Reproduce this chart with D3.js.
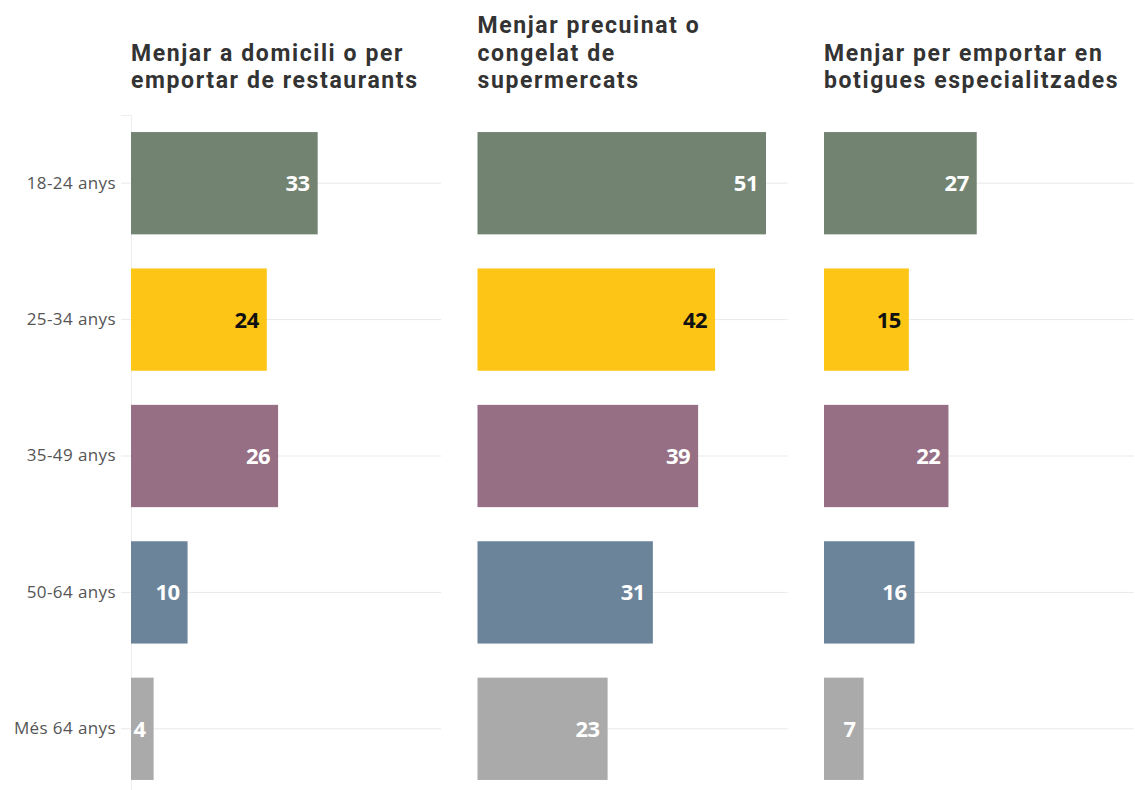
<!DOCTYPE html>
<html>
<head>
<meta charset="utf-8">
<script src="https://cdn.jsdelivr.net/npm/d3@7"></script>
<style>
  body { margin: 0; background: #fff; }
  svg { display: block; }
</style>
</head>
<body>
<svg width="1135" height="790"></svg>
<script>
// data
var groups = ["18-24 anys", "25-34 anys", "35-49 anys", "50-64 anys", "Més 64 anys"];
var titles = [
  ["Menjar a domicili o per", "emportar de restaurants"],
  ["Menjar precuinat o", "congelat de", "supermercats"],
  ["Menjar per emportar en", "botigues especialitzades"]
];
var restaurants = [33, 24, 26, 10, 4];
var supermercats = [51, 42, 39, 31, 23];
var botigues = [27, 15, 22, 16, 7];
var colors = ["#728471", "#fdc516", "#966f85", "#6b8499", "#aaaaaa"];
var labelColors = ["#fff", "#111", "#fff", "#fff", "#fff"];

var series = [restaurants, supermercats, botigues];

var svg = d3.select("svg");
var panelW = 310, plotTop = 115, plotBottom = 797;
var panelX = d3.scaleLinear().domain([0, 1]).range([131, 477.5]);

var x = d3.scaleLinear().domain([0, 54.8]).range([0, panelW]);
var y = d3.scaleBand().domain(groups).range([plotTop, plotBottom]).paddingInner(0.25).paddingOuter(0.125);

series.forEach(function(vals, p) {
  var g = svg.append("g").attr("transform", "translate(" + panelX(p) + ",0)");

  // grid lines
  g.append("g")
    .selectAll("line")
    .data(groups)
    .enter().append("line")
    .attr("x1", 0).attr("x2", panelW)
    .attr("y1", function(d) { return y(d) + y.bandwidth() / 2; })
    .attr("y2", function(d) { return y(d) + y.bandwidth() / 2; })
    .attr("stroke", "#e9e9e9").attr("stroke-width", 1);

  if (p === 0) {
    var axis = d3.axisLeft(y).tickSize(10).tickPadding(5);
    var ag = g.append("g").call(axis);
    ag.select(".domain").attr("stroke", "#eeeeee");
    ag.selectAll(".tick line").attr("stroke", "#e9e9e9");
    ag.selectAll(".tick text")
      .attr("fill", "#555")
      .style("font-family", "'Open Sans', sans-serif")
      .style("font-size", "17px")
      .style("letter-spacing", "0.4px");
  }

  g.selectAll("rect")
    .data(vals)
    .enter().append("rect")
    .attr("x", 0)
    .attr("y", function(d, i) { return y(groups[i]); })
    .attr("width", function(d) { return x(d); })
    .attr("height", y.bandwidth())
    .attr("fill", function(d, i) { return colors[i]; });

  g.selectAll("text.val")
    .data(vals)
    .enter().append("text")
    .attr("class", "val")
    .attr("x", function(d) { return x(d) - 8; })
    .attr("y", function(d, i) { return y(groups[i]) + y.bandwidth() / 2; })
    .attr("dy", "0.36em")
    .attr("text-anchor", "end")
    .attr("fill", function(d, i) { return labelColors[i]; })
    .style("font-family", "'Open Sans', sans-serif")
    .style("font-weight", "bold")
    .style("font-size", "22px")
    .style("letter-spacing", "-0.5px")
    .text(function(d) { return d; });

  // title, bottom aligned
  var lines = titles[p];
  var t = g.append("text")
    .attr("fill", "#333")
    .style("font-family", "Roboto, sans-serif")
    .style("font-weight", "bold")
    .style("font-size", "23px")
    .style("letter-spacing", "1.6px");
  lines.forEach(function(l, i) {
    t.append("tspan")
      .attr("x", 0)
      .attr("y", 88 - (lines.length - 1 - i) * 27.5)
      .text(l);
  });
});
</script>
</body>
</html>
